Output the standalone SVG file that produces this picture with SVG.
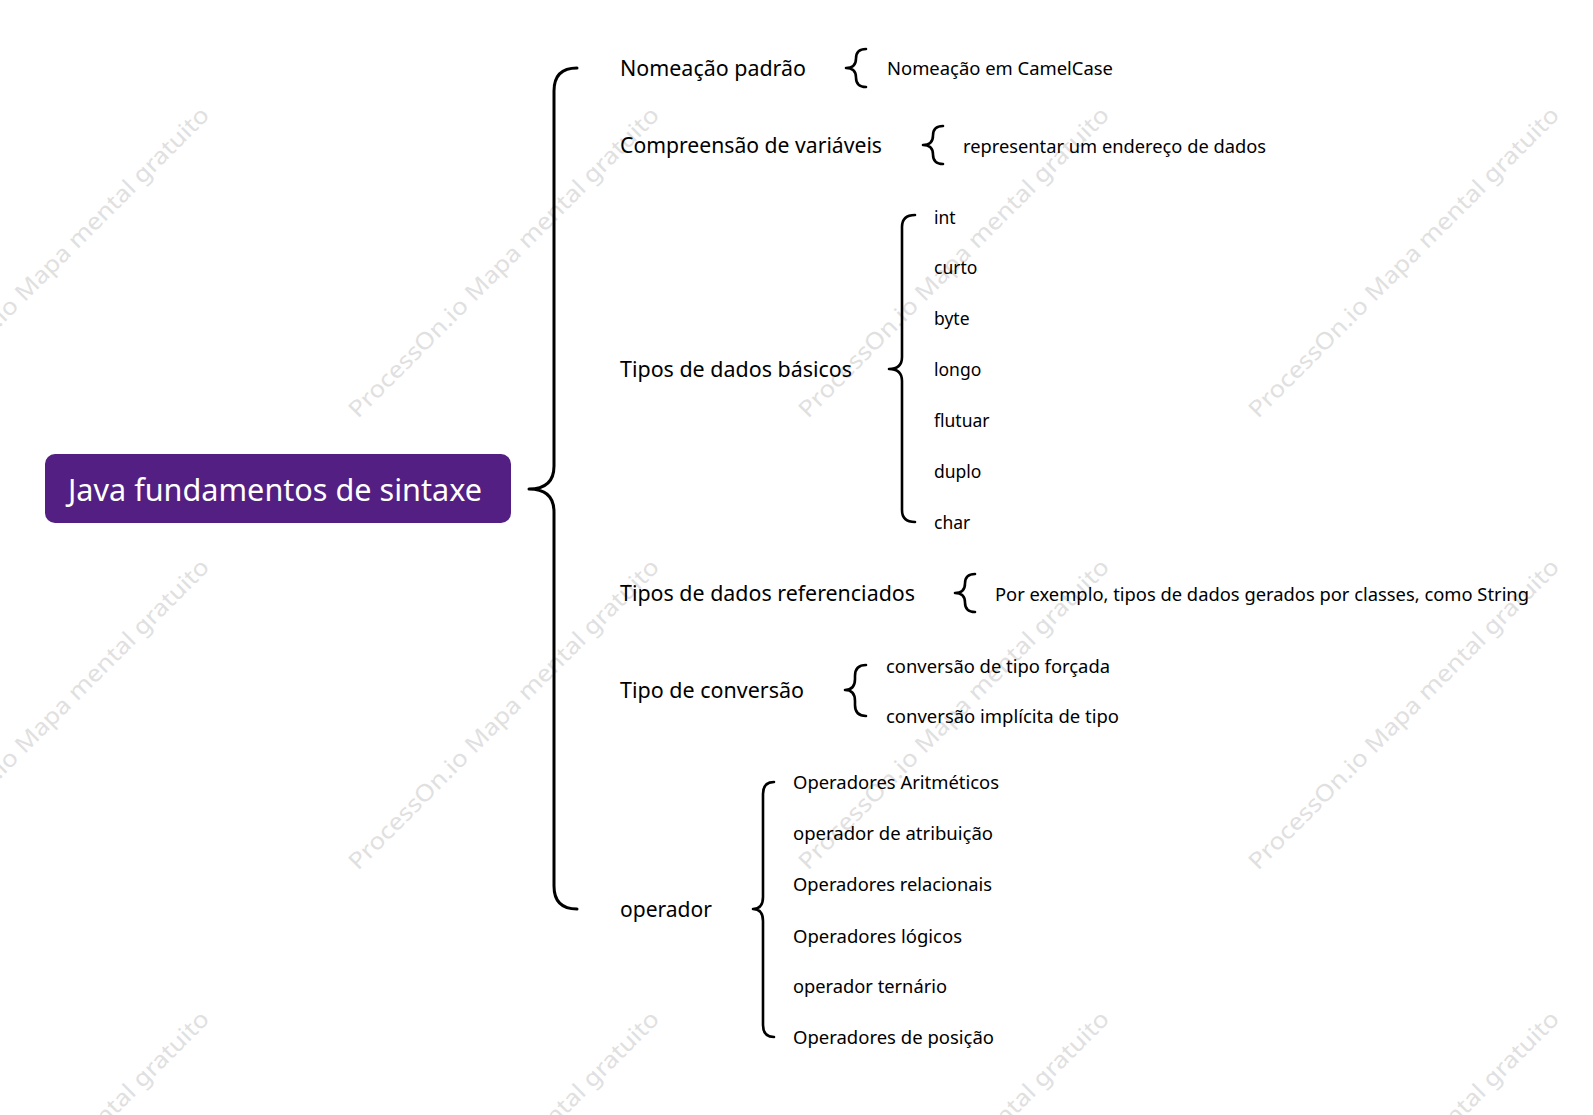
<svg xmlns="http://www.w3.org/2000/svg" width="1593" height="1115" viewBox="0 0 1593 1115">
<style>
.wm{font-family:"Noto Sans","Open Sans",sans-serif;font-size:23px;fill:#e0e0e0}
.l1{font-family:"Noto Sans","Open Sans",sans-serif;font-size:21.5px;fill:#000}
.l2{font-family:"Noto Sans","Open Sans",sans-serif;font-size:17.5px;fill:#000}
.root{font-family:"Noto Sans","Open Sans",sans-serif;font-size:30px;fill:#fff}
.br{fill:none;stroke:#000;stroke-width:2.6;stroke-linecap:round;stroke-linejoin:round}
.brm{fill:none;stroke:#000;stroke-width:3;stroke-linecap:round;stroke-linejoin:round}
</style>
<rect width="1593" height="1115" fill="#fff"/>
<g id="watermarks">
<text class="wm" transform="translate(-92,419) rotate(-45)" textLength="428" lengthAdjust="spacingAndGlyphs">ProcessOn.io Mapa mental gratuito</text>
<text class="wm" transform="translate(358,419) rotate(-45)" textLength="428" lengthAdjust="spacingAndGlyphs">ProcessOn.io Mapa mental gratuito</text>
<text class="wm" transform="translate(808,419) rotate(-45)" textLength="428" lengthAdjust="spacingAndGlyphs">ProcessOn.io Mapa mental gratuito</text>
<text class="wm" transform="translate(1258,419) rotate(-45)" textLength="428" lengthAdjust="spacingAndGlyphs">ProcessOn.io Mapa mental gratuito</text>
<text class="wm" transform="translate(-92,871) rotate(-45)" textLength="428" lengthAdjust="spacingAndGlyphs">ProcessOn.io Mapa mental gratuito</text>
<text class="wm" transform="translate(358,871) rotate(-45)" textLength="428" lengthAdjust="spacingAndGlyphs">ProcessOn.io Mapa mental gratuito</text>
<text class="wm" transform="translate(808,871) rotate(-45)" textLength="428" lengthAdjust="spacingAndGlyphs">ProcessOn.io Mapa mental gratuito</text>
<text class="wm" transform="translate(1258,871) rotate(-45)" textLength="428" lengthAdjust="spacingAndGlyphs">ProcessOn.io Mapa mental gratuito</text>
<text class="wm" transform="translate(-92,1323) rotate(-45)" textLength="428" lengthAdjust="spacingAndGlyphs">ProcessOn.io Mapa mental gratuito</text>
<text class="wm" transform="translate(358,1323) rotate(-45)" textLength="428" lengthAdjust="spacingAndGlyphs">ProcessOn.io Mapa mental gratuito</text>
<text class="wm" transform="translate(808,1323) rotate(-45)" textLength="428" lengthAdjust="spacingAndGlyphs">ProcessOn.io Mapa mental gratuito</text>
<text class="wm" transform="translate(1258,1323) rotate(-45)" textLength="428" lengthAdjust="spacingAndGlyphs">ProcessOn.io Mapa mental gratuito</text>
</g>
<g id="connectors">
<path class="brm" d="M577,68 Q554,68 554,91 L554,466 Q554,489 529,489 Q554,489 554,512 L554,886 Q554,909 577,909"/>
<path class="br" d="M866,49 Q856,49 856,58.5 Q856,68 846,68 Q856,68 856,77.5 Q856,87 866,87"/>
<path class="br" d="M943,126 Q933,126 933,135.5 Q933,145 923,145 Q933,145 933,154.5 Q933,164 943,164"/>
<path class="br" d="M915,215 Q902,215 902,227 L902,357 Q902,369 889,369 Q902,369 902,381 L902,510 Q902,522 915,522"/>
<path class="br" d="M975,574 Q965,574 965,583.5 Q965,593 955,593 Q965,593 965,602.5 Q965,612 975,612"/>
<path class="br" d="M866,665 Q855,665 855,676 L855,679 Q855,690 845,690 Q855,690 855,701 L855,705 Q855,716 866,716"/>
<path class="br" d="M774,782 Q763,782 763,794 L763,897 Q763,909 753,909 Q763,909 763,921 L763,1025 Q763,1037 774,1037"/>
</g>
<g id="root">
<rect x="45" y="454" width="466" height="69" rx="10" fill="#531F83"/>
<text class="root" x="68" y="501" textLength="414" lengthAdjust="spacingAndGlyphs">Java fundamentos de sintaxe</text>
</g>
<g id="n-nomeacao">
<text class="l1" x="620" y="76" textLength="186" lengthAdjust="spacingAndGlyphs">Nomeação padrão</text>
</g>
<g id="n-nomeacao-1">
<text class="l2" x="887" y="75.2" textLength="226" lengthAdjust="spacingAndGlyphs">Nomeação em CamelCase</text>
</g>
<g id="n-compreensao">
<text class="l1" x="620" y="153.3" textLength="262" lengthAdjust="spacingAndGlyphs">Compreensão de variáveis</text>
</g>
<g id="n-compreensao-1">
<text class="l2" x="963" y="152.5" textLength="303" lengthAdjust="spacingAndGlyphs">representar um endereço de dados</text>
</g>
<g id="n-basicos">
<text class="l1" x="620" y="377" textLength="232" lengthAdjust="spacingAndGlyphs">Tipos de dados básicos</text>
</g>
<g id="n-int"><text class="l2" x="934" y="223.6">int</text></g>
<g id="n-curto"><text class="l2" x="934" y="274.4">curto</text></g>
<g id="n-byte"><text class="l2" x="934" y="325.2">byte</text></g>
<g id="n-longo"><text class="l2" x="934" y="376">longo</text></g>
<g id="n-flutuar"><text class="l2" x="934" y="426.8">flutuar</text></g>
<g id="n-duplo"><text class="l2" x="934" y="478.2">duplo</text></g>
<g id="n-char"><text class="l2" x="934" y="529.2">char</text></g>
<g id="n-referenciados">
<text class="l1" x="620" y="601.4" textLength="295" lengthAdjust="spacingAndGlyphs">Tipos de dados referenciados</text>
</g>
<g id="n-referenciados-1">
<text class="l2" x="995" y="600.6" textLength="534" lengthAdjust="spacingAndGlyphs">Por exemplo, tipos de dados gerados por classes, como String</text>
</g>
<g id="n-conversao">
<text class="l1" x="620" y="698" textLength="184" lengthAdjust="spacingAndGlyphs">Tipo de conversão</text>
</g>
<g id="n-conversao-1"><text class="l2" x="886" y="672.5" textLength="224" lengthAdjust="spacingAndGlyphs">conversão de tipo forçada</text></g>
<g id="n-conversao-2"><text class="l2" x="886" y="723.3" textLength="233" lengthAdjust="spacingAndGlyphs">conversão implícita de tipo</text></g>
<g id="n-operador">
<text class="l1" x="620" y="917.3" textLength="92" lengthAdjust="spacingAndGlyphs">operador</text>
</g>
<g id="n-op-1"><text class="l2" x="793" y="789.3" textLength="206" lengthAdjust="spacingAndGlyphs">Operadores Aritméticos</text></g>
<g id="n-op-2"><text class="l2" x="793" y="840.2" textLength="200" lengthAdjust="spacingAndGlyphs">operador de atribuição</text></g>
<g id="n-op-3"><text class="l2" x="793" y="891" textLength="199" lengthAdjust="spacingAndGlyphs">Operadores relacionais</text></g>
<g id="n-op-4"><text class="l2" x="793" y="942.5" textLength="169" lengthAdjust="spacingAndGlyphs">Operadores lógicos</text></g>
<g id="n-op-5"><text class="l2" x="793" y="993.4" textLength="154" lengthAdjust="spacingAndGlyphs">operador ternário</text></g>
<g id="n-op-6"><text class="l2" x="793" y="1044.3" textLength="201" lengthAdjust="spacingAndGlyphs">Operadores de posição</text></g>
</svg>
